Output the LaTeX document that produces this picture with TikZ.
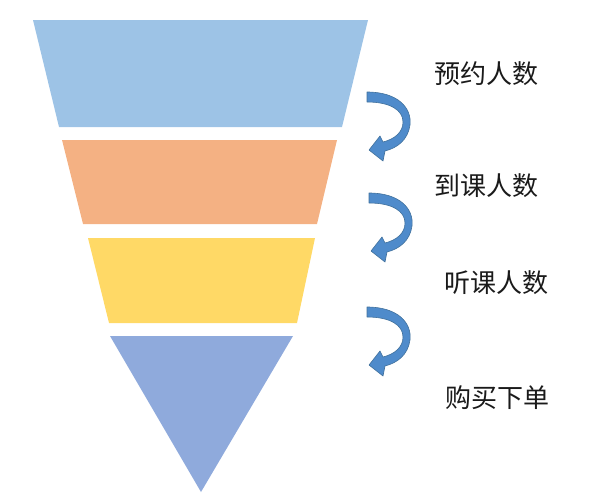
\documentclass[tikz,border=0pt]{standalone}
\usepackage{fontspec}
\newfontfamily\cjk{Noto Sans CJK SC}
\definecolor{bandA}{HTML}{9DC3E6}
\definecolor{bandB}{HTML}{F4B183}
\definecolor{bandC}{HTML}{FFD966}
\definecolor{bandD}{HTML}{8FAADC}
\definecolor{arrowfill}{HTML}{4F8BCB}
\definecolor{arrowline}{HTML}{41719C}
\definecolor{labeltext}{HTML}{1A1A1A}
\begin{document}
\begin{tikzpicture}[x=1pt,y=-1pt,
  label/.style={font=\cjk\fontsize{26}{26}\selectfont, text=labeltext, inner sep=0pt},
  curvearrow/.style={fill=arrowfill, draw=arrowline, line width=0.6pt, line join=round}]
\useasboundingbox (0,0) rectangle (597,498);
% funnel bands
\fill[bandA] (33,20) -- (368,20) -- (342,127) -- (59,127) -- cycle;
\fill[bandB] (62,140) -- (337,140) -- (317,224) -- (83,224) -- cycle;
\fill[bandC] (88,238) -- (315,238) -- (297,323) -- (109,323) -- cycle;
\fill[bandD] (110,336) -- (293,336) -- (201,492) -- cycle;
% curved arrows
\foreach \dx/\dy in {0/0, 2/101, 0/215}{
  \begin{scope}[shift={(\dx,\dy)}]
    \path[curvearrow] (367,92) .. controls (398,92) and (412,108) .. (410,125)
      .. controls (408,140) and (397,148) .. (385,151)
      -- (383,161) -- (369,150) -- (380,136) -- (383,142)
      .. controls (395,139) and (403,132) .. (403,122)
      .. controls (403,110) and (390,102) .. (367,102) -- cycle;
  \end{scope}
}
% labels
\node[label] (l1) at (486,74) {预约人数};
\node[label] (l2) at (486,186) {到课人数};
\node[label] (l3) at (496,283) {听课人数};
\node[label] (l4) at (497,398) {购买下单};
\end{tikzpicture}
\end{document}
